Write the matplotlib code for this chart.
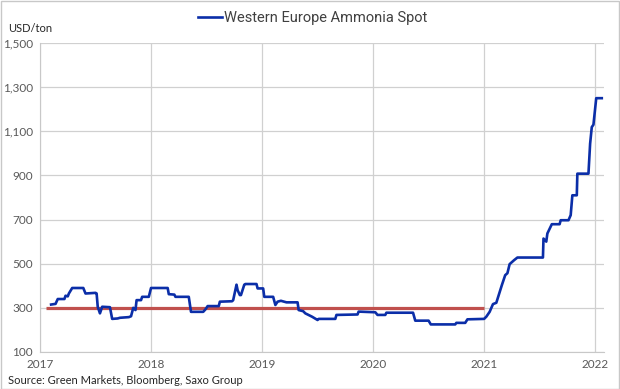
import matplotlib
matplotlib.use('Agg')
import matplotlib.pyplot as plt
from matplotlib.ticker import FuncFormatter
from matplotlib.patches import Rectangle

# weekly spot price (decimal year, USD/ton)
years = [2017.10, 2017.14, 2017.16, 2017.22, 2017.23, 2017.25, 2017.26, 2017.29,
         2017.39, 2017.41, 2017.50, 2017.51, 2017.52, 2017.54, 2017.56, 2017.63,
         2017.65, 2017.70, 2017.72, 2017.80, 2017.82, 2017.84, 2017.86, 2017.87,
         2017.91, 2017.92, 2017.98, 2018.00, 2018.15, 2018.16, 2018.21, 2018.22,
         2018.34, 2018.36, 2018.47, 2018.49, 2018.51, 2018.61, 2018.62, 2018.73,
         2018.74, 2018.77, 2018.78, 2018.80, 2018.81, 2018.84, 2018.85, 2018.95,
         2018.96, 2019.01, 2019.02, 2019.10, 2019.12, 2019.14, 2019.17, 2019.22,
         2019.32, 2019.33, 2019.37, 2019.39, 2019.45, 2019.50, 2019.51, 2019.66,
         2019.67, 2019.86, 2019.87, 2020.02, 2020.04, 2020.11, 2020.12, 2020.36,
         2020.38, 2020.50, 2020.52, 2020.74, 2020.75, 2020.83, 2020.85, 2021.00,
         2021.02, 2021.05, 2021.08, 2021.11, 2021.16, 2021.19, 2021.21, 2021.23,
         2021.27, 2021.30, 2021.53, 2021.535, 2021.56, 2021.57, 2021.61, 2021.68,
         2021.69, 2021.76, 2021.78, 2021.795, 2021.835, 2021.84, 2021.94, 2021.955,
         2021.97, 2021.985, 2022.01, 2022.06]
price = [315, 318, 340, 340, 355, 352, 365, 390,
         390, 365, 368, 365, 305, 275, 305, 303,
         250, 252, 255, 258, 262, 300, 290, 335,
         335, 350, 350, 390, 390, 362, 360, 350,
         350, 282, 282, 293, 308, 308, 328, 330,
         335, 405, 380, 358, 358, 405, 408, 408,
         388, 388, 350, 350, 313, 328, 332, 325,
         325, 290, 285, 275, 260, 245, 250, 250,
         268, 270, 283, 280, 268, 268, 278, 278,
         242, 242, 225, 225, 232, 232, 248, 250,
         260, 282, 317, 323, 403, 448, 457, 498,
         516, 528, 528, 614, 600, 637, 679, 679,
         697, 697, 720, 810, 810, 908, 908, 1044,
         1119, 1130, 1250, 1250]

avg_years = [2017.05, 2021.0]
avg_level = [300, 300]

year_ticks = [2017, 2018, 2019, 2020, 2021, 2022]
value_ticks = [100, 300, 500, 700, 900, 1100, 1300, 1500]

fig = plt.figure(figsize=(6.2, 3.89), dpi=100)
ax = fig.add_axes([40/620, 37/389, 564/620, 309/389])

ax.plot(avg_years, avg_level, color='#c0504d', lw=2.3, solid_capstyle='butt', zorder=2)
line, = ax.plot(years, price, color='#0b2ea8', lw=1.9, zorder=3,
                label='Western Europe Ammonia Spot')

ax.set_xlim(2017, 2022.08)
ax.set_ylim(100, 1500)
ax.set_xticks(year_ticks)
ax.set_yticks(value_ticks)
ax.yaxis.set_major_formatter(FuncFormatter(lambda v, p: f'{int(v):,}'))
ax.grid(True, color='#d0d0d0', lw=0.9)
ax.set_axisbelow(True)
for s in ['top', 'right']:
    ax.spines[s].set_visible(False)
for s in ['left', 'bottom']:
    ax.spines[s].set_color('#c8c8c8')
ax.tick_params(length=0, labelsize=8.5, colors='#595959', pad=5)
for lab in ax.get_xticklabels() + ax.get_yticklabels():
    lab.set_family('Lato')

fig.legend(handles=[line], loc='center', bbox_to_anchor=(313/620, 1 - 18/389),
           frameon=False, handlelength=1.6, handletextpad=0.2,
           prop={'family': 'Roboto', 'size': 10.5}, labelcolor='#404040')

fig.text(8/620, 1 - 28/389, 'USD/ton', fontsize=8, family='Lato', color='#262626',
         va='center', ha='left')
fig.text(8/620, 1 - 381/389, 'Source: Green Markets, Bloomberg, Saxo Group',
         fontsize=8, family='Lato', color='#262626', va='center', ha='left')

fig.patches.append(Rectangle((0.001, 0.001), 0.997, 0.997, transform=fig.transFigure,
                             fill=False, edgecolor='#c8c8c8', lw=1))

fig.savefig('out.png', dpi=100)
